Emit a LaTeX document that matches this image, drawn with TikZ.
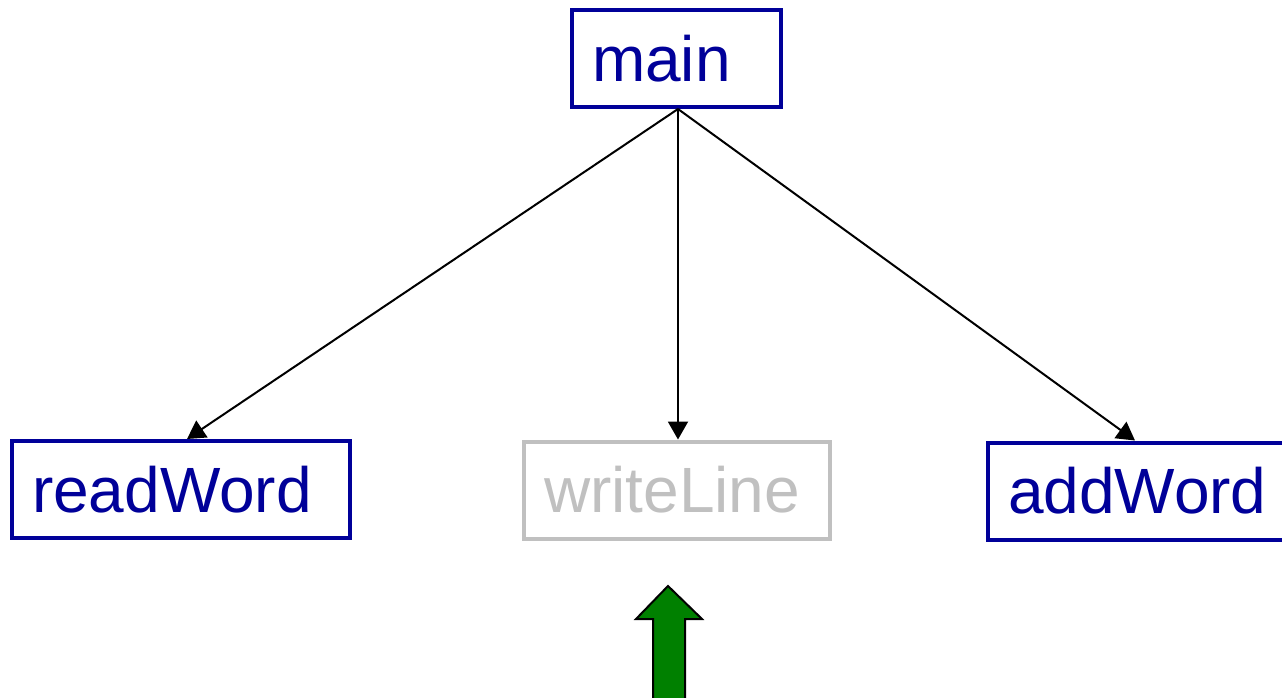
\documentclass[tikz,border=0pt]{standalone}
\usepackage{fontspec}
\setmainfont{Liberation Sans}
\usetikzlibrary{arrows.meta}
\definecolor{callblue}{RGB}{0,0,153}
\definecolor{fadedgray}{RGB}{192,192,192}
\definecolor{markgreen}{RGB}{0,128,0}
\begin{document}
\begin{tikzpicture}[x=1pt,y=-1pt,
  fn/.style={draw=callblue, text=callblue, line width=4pt, rectangle,
    font=\fontsize{64}{70}\selectfont, align=left, inner xsep=20pt,
    inner ysep=0pt, minimum height=97pt},
  faded/.style={fn, draw=fadedgray, text=fadedgray},
  call/.style={line width=2pt, -{Triangle[length=18pt,width=20pt]}}]
  \useasboundingbox (0,0) rectangle (1282,698);

  % procedures
  \node[fn, text width=169pt] (main) at (676.5,58.5) {main};
  \node[fn, text width=298pt] (readWord) at (181,489.5) {readWord};
  \node[faded, text width=266pt] (writeLine) at (677,490) {writeLine};
  \node[fn, text width=262pt] (addWord) at (1139,491) {addWord};

  % calls from main
  \draw[call] ([xshift=1.5pt]main.south) -- ([xshift=6pt]readWord.north);
  \draw[call] ([xshift=1.5pt]main.south) -- ([xshift=1pt]writeLine.north);
  \draw[call] ([xshift=1.5pt]main.south) -- ([xshift=-4pt]addWord.north);

  % pointer to the current procedure
  \draw[fill=markgreen, line width=2pt, line join=miter]
    (668,586) -- (702,619) -- (685,619) -- (685,702) -- (653,702)
    -- (653,619) -- (636,619) -- cycle;
\end{tikzpicture}
\end{document}
